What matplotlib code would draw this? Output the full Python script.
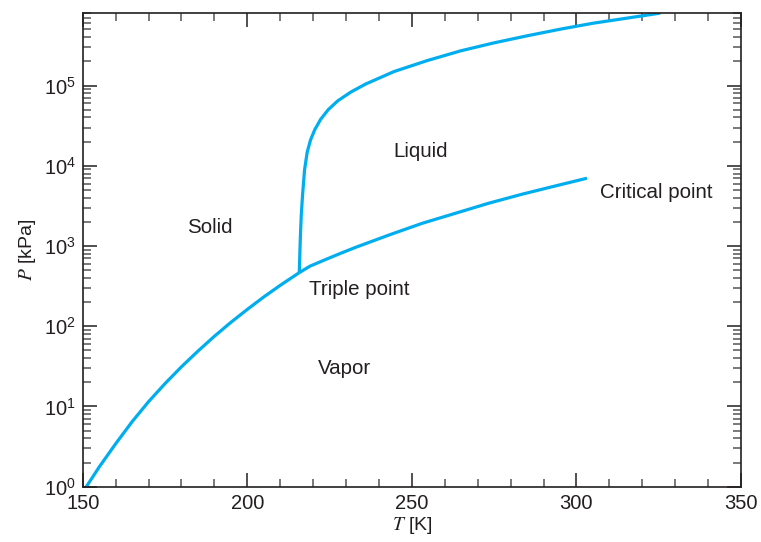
import matplotlib
matplotlib.use("Agg")
import matplotlib.pyplot as plt
from matplotlib.ticker import LogLocator, MultipleLocator, NullFormatter

plt.rcParams['font.family'] = ['Liberation Sans', 'DejaVu Sans']
plt.rcParams['mathtext.fontset'] = 'stix'

# sublimation curve (solid-vapor)
sub_T = [151.1, 155.0, 160.0, 165.0, 170.0, 175.0, 180.0, 185.0, 190.0,
         195.0, 200.0, 205.0, 210.0, 215.8]
sub_P = [1.0, 1.76, 3.43, 6.46, 11.48, 19.28, 31.26, 48.98, 74.99,
         111.7, 162.2, 231.7, 323.6, 466.0]

# vaporization curve (liquid-vapor), triple point to critical point
vap_T = [215.8, 219.0, 222.9, 228.0, 233.0, 243.1, 253.2, 263.3, 273.4, 283.5,
         293.6, 303.2]
vap_P = [466.0, 560.0, 655.0, 800.0, 966.0, 1374.0, 1923.0, 2564.0, 3420.0, 4426.0,
         5610.0, 7000.0]

# melting curve (solid-liquid)
melt_T = [215.8, 216.0, 216.15, 216.4, 216.8, 217.4, 218.2, 219.2, 220.5,
          222.3, 224.6, 227.5, 231.5, 236.0, 244.6, 254.7, 264.85, 274.6,
          285.0, 295.15, 305.2, 315.3, 325.45]
melt_P = [466.0, 894.0, 1375.0, 2440.0, 4365.0, 8910.0, 14790.0, 20890.0, 28180.0,
          38020.0, 50120.0, 64570.0, 83180.0, 104700.0, 149600.0, 205000.0,
          271000.0, 338000.0, 417000.0, 505000.0, 600000.0, 692000.0, 800000.0]

region_labels = ['Solid', 'Liquid', 'Vapor', 'Triple point', 'Critical point']
label_T = [188.6, 252.8, 229.5, 234.0, 324.4]
label_P = [1680.0, 15100.0, 29.5, 290.0, 4700.0]

LINE = '#00aeef'
INK = '#231f20'

fig = plt.figure(figsize=(7.61, 5.42), dpi=100)
ax = fig.add_axes([0.1087, 0.102, 0.865, 0.8746])

for T, P in [(sub_T, sub_P), (vap_T, vap_P), (melt_T, melt_P)]:
    ax.plot(T, P, color=LINE, linewidth=2.3, solid_capstyle='butt',
            solid_joinstyle='round')

for txt, t, p in zip(region_labels, label_T, label_P):
    ax.text(t, p, txt, fontsize=14.8, color=INK, ha='center', va='center')

ax.set_yscale('log')
ax.set_xlim(150, 350)
ax.set_ylim(1, 8.1e5)

ax.xaxis.set_major_locator(MultipleLocator(50))
ax.xaxis.set_minor_locator(MultipleLocator(10))
ax.yaxis.set_major_locator(LogLocator(base=10, numticks=10))
ax.yaxis.set_minor_locator(LogLocator(base=10, subs=range(2, 10), numticks=20))
ax.yaxis.set_minor_formatter(NullFormatter())

ax.tick_params(which='both', direction='in', top=True, right=True,
               labelsize=14.5, colors=INK, pad=5)
ax.tick_params(which='major', length=10, width=1.1)
ax.tick_params(which='minor', length=5.5, width=1.1, color='#555555')

for s in ax.spines.values():
    s.set_color(INK)
    s.set_linewidth(1.2)

ax.set_xlabel(r'$T$ [K]', fontsize=14, color=INK, labelpad=2)
ax.set_ylabel(r'$P$ [kPa]', fontsize=14, color=INK, labelpad=4)

fig.savefig('out.png', dpi=100)
